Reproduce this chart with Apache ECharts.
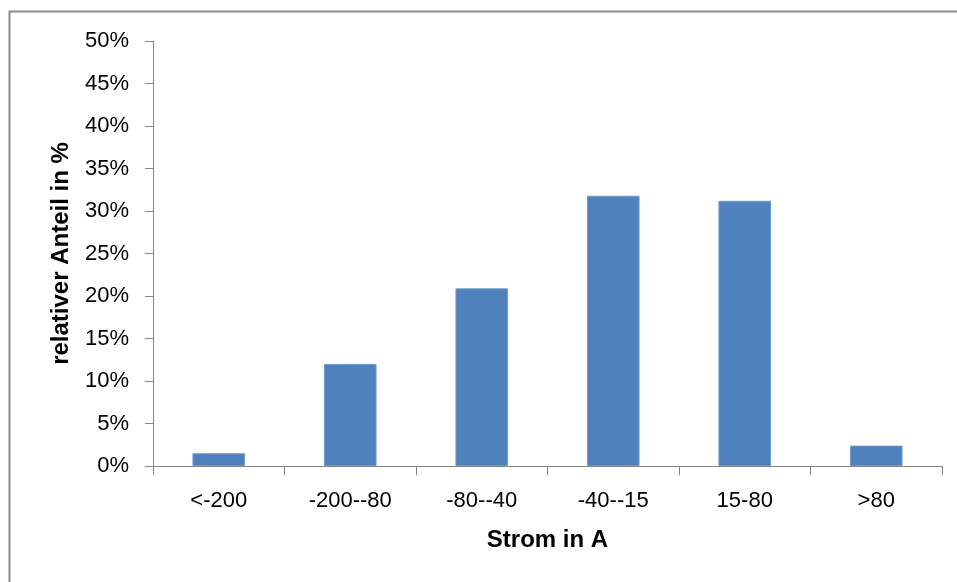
<!DOCTYPE html>
<html>
<head>
<meta charset="utf-8">
<script src="https://cdn.jsdelivr.net/npm/echarts@6/dist/echarts.min.js"></script>
<style>
  html, body { margin: 0; padding: 0; background: #fff; }
  #chart { width: 957px; height: 582px; }
</style>
</head>
<body>
<div id="chart"></div>
<script>
// Current ranges (A) and their relative share (%)
const categories = ['<-200', '-200--80', '-80--40', '-40--15', '15-80', '>80'];
const shares = [1.5, 12.0, 20.9, 31.8, 31.2, 2.4];
const yTicks = { min: 0, max: 50, step: 5 };

const chart = echarts.init(document.getElementById('chart'), null, { renderer: 'canvas' });

const axisGray = '#868686';
const font = 'Liberation Sans, Arial, sans-serif';

chart.setOption({
  animation: false,
  backgroundColor: '#ffffff',
  graphic: [{
    type: 'rect',
    shape: { x: 9.5, y: 11.5, width: 1200, height: 1200 },
    style: { fill: 'none', stroke: '#8a8a8a', lineWidth: 2 },
    silent: true
  }],
  grid: { left: 153, right: 15, top: 41, bottom: 116, containLabel: false },
  xAxis: {
    type: 'category',
    data: categories,
    name: 'Strom in A',
    nameLocation: 'middle',
    nameGap: 62,
    nameTextStyle: { fontFamily: font, fontSize: 24, fontWeight: 'bold', color: '#000' },
    axisLine: { lineStyle: { color: axisGray, width: 1 } },
    axisTick: { show: true, length: 9, alignWithLabel: false, lineStyle: { color: axisGray } },
    axisLabel: { margin: 24, fontFamily: font, fontSize: 22, color: '#000' },
    splitLine: { show: false }
  },
  yAxis: {
    type: 'value',
    min: yTicks.min,
    max: yTicks.max,
    interval: yTicks.step,
    name: 'relativer Anteil in %',
    nameLocation: 'middle',
    nameRotate: 90,
    nameGap: 80,
    nameTextStyle: { fontFamily: font, fontSize: 24, fontWeight: 'bold', color: '#000' },
    axisLine: { show: true, lineStyle: { color: axisGray, width: 1 } },
    axisTick: { show: true, length: 8, lineStyle: { color: axisGray } },
    axisLabel: { margin: 24, fontFamily: font, fontSize: 22, color: '#000', formatter: '{value}%' },
    splitLine: { show: false }
  },
  series: [{
    type: 'bar',
    data: shares,
    barWidth: '40%',
    itemStyle: { color: '#4f81bd', borderColor: '#7199cc', borderWidth: 1 }
  }]
});
</script>
</body>
</html>
